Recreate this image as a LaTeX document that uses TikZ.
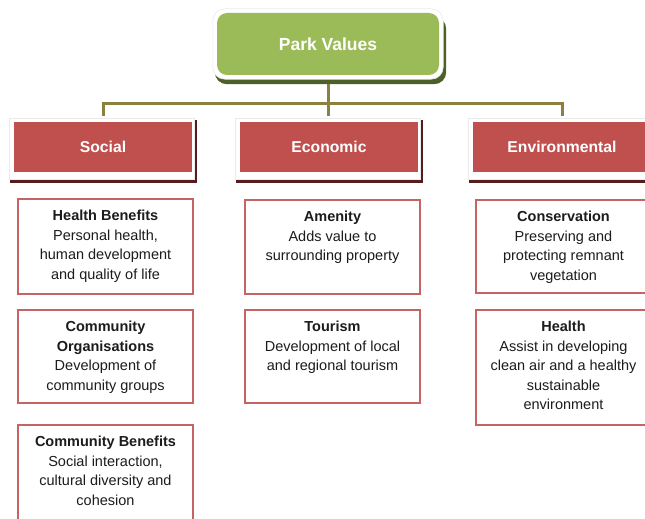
\documentclass[tikz,border=0pt]{standalone}
\usepackage{fontspec}
\setmainfont{Liberation Sans}
\usetikzlibrary{calc,backgrounds}

\definecolor{parkgreen}{RGB}{155,187,89}
\definecolor{parkshadow}{RGB}{78,96,42}
\definecolor{catred}{RGB}{192,80,77}
\definecolor{catshadow}{RGB}{86,28,30}
\definecolor{linkolive}{RGB}{140,128,62}
\definecolor{itemborder}{RGB}{198,100,100}
\definecolor{bodytext}{RGB}{28,28,28}

% item box content: fixed-size top-aligned block with bold title and body
\newcommand{\valuecell}[3]{%
  \parbox[t][#1][t]{175pt}{\centering\rule{0pt}{21.5pt}\textbf{#2}\\#3}}

\begin{document}
\begin{tikzpicture}[x=1pt, y=-1pt,
  parkbox/.style={fill=parkgreen, rounded corners=10pt, minimum width=222pt,
    minimum height=62pt, inner sep=0pt, text=white,
    font=\bfseries\fontsize{17.5}{20}\selectfont},
  catbox/.style={fill=catred, minimum width=178pt, minimum height=50pt,
    inner sep=0pt, text=white, font=\bfseries\fontsize{15.7}{18}\selectfont},
  itembox/.style={draw=itemborder, line width=1.5pt, fill=white, inner sep=0pt,
    text=bodytext, font=\fontsize{14.5}{19.5}\selectfont},
  link/.style={draw=linkolive, line width=3pt},
]
\useasboundingbox (0,0) rectangle (645,519);
\clip (0,0) rectangle (645,519);

% root
\node[parkbox] (park) at (328,44) {Park Values};

% categories
\node[catbox] (soc) at (103,147) {Social};
\node[catbox] (eco) at (329,147) {Economic};
\node[catbox] (env) at (562,147) {Environmental};

% shadows and white halos behind the headers
\begin{scope}[on background layer]
  \fill[parkshadow, rounded corners=12pt]
    ($(park.north west)+(-2,4)$) rectangle ($(park.south east)+(7,9)$);
  \fill[white, draw=black!8, line width=0.6pt, rounded corners=12pt]
    ($(park.north west)+(-4,-4)$) rectangle ($(park.south east)+(4,4)$);
  \foreach \c in {soc,eco,env}{
    \fill[catshadow]
      ($(\c.north west)+(-4,-2)$) rectangle ($(\c.south east)+(5,11)$);
    \fill[white, draw=black!8, line width=0.6pt]
      ($(\c.north west)+(-5,-4)$) rectangle ($(\c.south east)+(2,7)$);
  }
\end{scope}

% connectors
\coordinate (bus) at (328,103);
\draw[link, shorten <=9pt] (park.south) -- (bus);
\draw[link, shorten >=6pt] (bus) -- (eco.north -| bus);
\draw[link, shorten >=6pt] (bus) -| (soc.north);
\draw[link, shorten >=6pt] (bus) -| (env.north);

% social values
\node[itembox] (hb) at (105.5,246.5)
  {\valuecell{95pt}{Health Benefits}{Personal health,\\human development\\and quality of life}};
\node[itembox] (co) at (105.5,356.5)
  {\valuecell{93pt}{Community\\Organisations}{Development of\\community groups}};
\node[itembox] (cb) at (105.5,475)
  {\valuecell{100pt}{Community Benefits}{Social interaction,\\cultural diversity and\\cohesion}};

% economic values
\node[itembox] (am) at (332.5,247)
  {\valuecell{94pt}{Amenity}{Adds value to\\surrounding property}};
\node[itembox] (to) at (332.5,356.5)
  {\valuecell{93pt}{Tourism}{Development of local\\and regional tourism}};

% environmental values
\node[itembox] (cn) at (563.5,246.5)
  {\valuecell{93pt}{Conservation}{Preserving and\\protecting remnant\\vegetation}};
\node[itembox] (he) at (563.5,367.5)
  {\valuecell{115pt}{Health}{Assist in developing\\clean air and a healthy\\sustainable\\environment}};
\end{tikzpicture}
\end{document}
